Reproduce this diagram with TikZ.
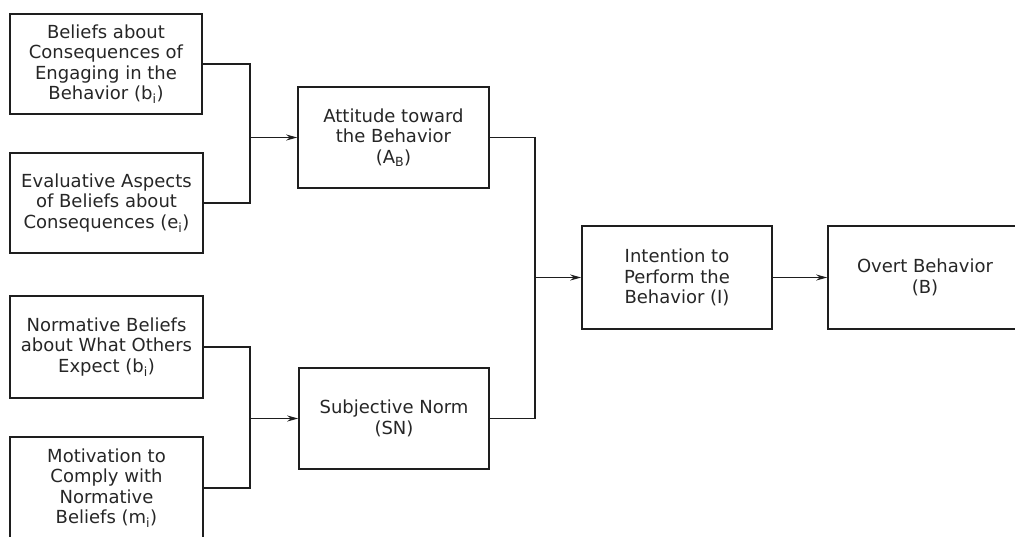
\documentclass[tikz,border=0pt]{standalone}
\usepackage{fontspec}
\setmainfont{DejaVu Sans}
\usetikzlibrary{arrows.meta}
\definecolor{ink}{HTML}{1E1E1E}
\definecolor{txt}{HTML}{262626}
\begin{document}
\begin{tikzpicture}[x=1pt,y=-1pt,
  box/.style={draw=ink, line width=1.6pt, rectangle, inner sep=0pt, align=center,
    font=\fontsize{18}{20.5}\selectfont, text=txt},
  conn/.style={draw=ink, line width=1.5pt},
  arr/.style={conn, -{Stealth[length=11pt,width=6pt]}}]
\useasboundingbox (0,0) rectangle (1015,536);
\clip (0,0) rectangle (1015,536);

\node[box, minimum width=192pt, minimum height=100pt] (b1) at (106,64)
  {Beliefs about\\Consequences of\\Engaging in the\\Behavior (b\textsubscript{i})};
\node[box, minimum width=193pt, minimum height=100pt] (b2) at (106.5,203)
  {Evaluative Aspects\\of Beliefs about\\Consequences (e\textsubscript{i})};
\node[box, minimum width=193pt, minimum height=102pt] (b3) at (106.5,347)
  {Normative Beliefs\\about What Others\\Expect (b\textsubscript{i})};
\node[box, minimum width=193pt, minimum height=102pt] (b4) at (106.5,488)
  {Motivation to\\Comply with\\Normative\\Beliefs (m\textsubscript{i})};
\node[box, minimum width=191pt, minimum height=101pt] (att) at (393.5,137.5)
  {Attitude toward\\the Behavior\\(A\textsubscript{B})};
\node[box, minimum width=190pt, minimum height=101pt] (sn) at (394,418.5)
  {Subjective Norm\\(SN)};
\node[box, minimum width=190pt, minimum height=103pt] (int) at (677,277.5)
  {Intention to\\Perform the\\Behavior (I)};
\node[box, minimum width=194pt, minimum height=103pt] (ovt) at (925,277.5)
  {Overt Behavior\\(B)};

\coordinate (j1) at (250,137.5);
\coordinate (j3) at (250,418.5);
\coordinate (j2) at (535,277.5);

\draw[conn] (b1.east) -| (j1) |- (b2.east);
\draw[arr] (j1) -- (att.west);
\draw[conn] (b3.east) -| (j3) |- (b4.east);
\draw[arr] (j3) -- (sn.west);
\draw[conn] (att.east) -| (j2) |- (sn.east);
\draw[arr] (j2) -- (int.west);
\draw[arr] (int.east) -- (ovt.west);
\end{tikzpicture}
\end{document}
